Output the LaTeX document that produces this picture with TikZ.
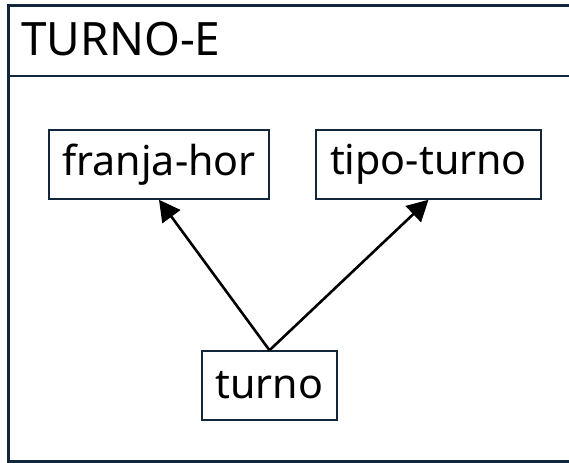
\documentclass[tikz,border=0pt]{standalone}
\usepackage{fontspec}
\setmainfont{Noto Sans}
\usetikzlibrary{arrows.meta}
\definecolor{framenavy}{HTML}{12283A}
\begin{document}
\begin{tikzpicture}[x=0.5pt,y=-0.5pt,
  entbox/.style={draw=framenavy, line width=0.75pt, inner sep=0pt,
    minimum height=34.5pt, font=\fontsize{20.6}{24}\selectfont},
  dep/.style={-{Triangle[length=10.5pt,width=11pt]}, line width=1.3pt}]
\useasboundingbox (0,0) rectangle (569,462);
\clip (0,0) rectangle (569,462);
% outer frame and header
\draw[framenavy, line width=1.5pt] (8.5,5.5) rectangle (580,461.5);
\draw[framenavy, line width=1pt] (8.5,76) -- (580,76);
\node[anchor=base west, inner sep=0pt, font=\fontsize{23}{27}\selectfont] (title) at (21,55) {TURNO-E};
% entities
\node[entbox, minimum width=110pt] (franja) at (159,164.5) {franja-hor};
\node[entbox, minimum width=112.5pt] (tipo) at (428.5,164.5) {tipo-turno};
\node[entbox, minimum width=67.5pt] (turno) at (269.5,385.5) {turno};
% dependencies
\draw[dep] (turno.north) -- (franja.south);
\draw[dep] (turno.north) -- (tipo.south);
\end{tikzpicture}
\end{document}
